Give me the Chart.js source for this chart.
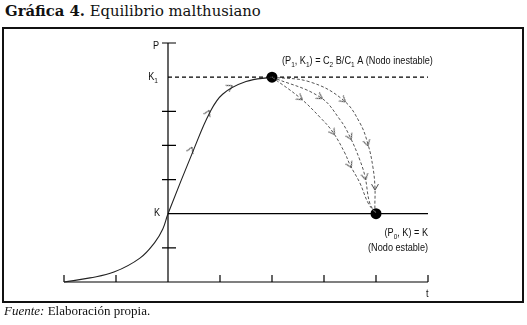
<!DOCTYPE html>
<html>
<head>
<meta charset="utf-8">
<script src="https://cdn.jsdelivr.net/npm/chart.js@4.4.1/dist/chart.umd.min.js"></script>
<style>
html, body { margin: 0; padding: 0; background: #fff; width: 527px; height: 325px; overflow: hidden; position: relative; }
#title { position: absolute; left: 5px; top: 2px; font: 14.8px "DejaVu Serif", serif; color: #111; white-space: nowrap; }
#frame { position: absolute; left: 2px; top: 27px; width: 518px; height: 272px; border: 2px solid #111; }
#note { position: absolute; left: 4px; top: 303px; font: 13px "Liberation Serif", serif; color: #111; white-space: nowrap; }
canvas { position: absolute; left: 0; top: 0; }
</style>
</head>
<body>
<div id="title"><b>Gráfica 4.</b> Equilibrio malthusiano</div>
<div id="frame"></div>
<canvas id="chart" width="527" height="325"></canvas>
<div id="note"><i>Fuente:</i> Elaboración propia.</div>
<script>
// ── data (abstract units: t across, P up) ─────────────
const xTicks = [0, 1, 3, 4, 5, 6, 7];
const yTicks = [1, 3, 4, 5, 7];
const axisT = 2;      // P axis stands at t = 2
const kLevel = 2;     // K
const k1Level = 6;    // K1
const tMax = 7;

// growth path up to (P1, K1)
const growthT = [0, 0.5, 0.96, 1.46, 1.75, 1.9, 2.0, 2.5, 2.8, 3.05, 3.5, 4.0];
const growthP = [0, 0.12, 0.29, 0.70, 1.17, 1.55, 2.0, 3.9, 4.95, 5.5, 5.87, 6.0];

// dashed paths from the unstable node down to the stable one
const path1T = [4.0, 4.54, 4.92, 5.17, 5.40, 5.50, 5.69, 5.85, 6.0];
const path1P = [6.0, 5.39, 4.83, 4.39, 3.78, 3.43, 2.90, 2.31, 2.0];
const path2T = [4.0, 4.92, 5.31, 5.50, 5.69, 5.79, 5.88, 6.0];
const path2P = [6.0, 5.42, 4.75, 4.25, 3.57, 3.08, 2.31, 2.0];
const path3T = [4.0, 4.73, 5.37, 5.69, 5.85, 5.94, 5.98, 5.98, 6.0];
const path3P = [6.0, 5.86, 5.33, 4.66, 4.01, 3.37, 2.78, 2.11, 2.0];

// direction arrows (position + heading in degrees)
const arrowT = [2.44, 2.77, 3.19, 4.54, 5.17, 5.50, 4.92, 5.50, 5.79, 5.37, 5.83, 5.98];
const arrowP = [3.87, 4.95, 5.71, 5.39, 4.39, 3.43, 5.42, 4.25, 3.08, 5.33, 4.07, 2.78];
const arrowDeg = [-67, -64, -29, 36, 55, 63, 32, 63, 77, 39, 74, 90];

// nodes
const nodeT = [4, 6];
const nodeP = [6, 2];

const pts = (xs, ys) => xs.map((x, i) => ({ x, y: ys[i] }));

// small open chevron used as point style
const chevron = document.createElement('canvas');
chevron.width = 10; chevron.height = 10;
(() => {
  const c = chevron.getContext('2d');
  c.strokeStyle = '#444'; c.lineWidth = 1;
  c.beginPath(); c.moveTo(2, 1.5); c.lineTo(8, 5); c.lineTo(2, 8.5); c.stroke();
})();

const labelFont = '10.5px "Liberation Sans", sans-serif';
const subFont = '7.5px "Liberation Sans", sans-serif';
const squeeze = 0.87; // the original face is condensed

// draw text with [text, isSub] parts
function rich(ctx, parts, x, y, align) {
  const w = parts.reduce((s, [t, sub]) => { ctx.font = sub ? subFont : labelFont; return s + ctx.measureText(t).width; }, 0) * squeeze;
  ctx.save();
  ctx.translate(align === 'right' ? x - w : x, y);
  ctx.scale(squeeze, 1);
  ctx.textAlign = 'left';
  let cx = 0;
  parts.forEach(([t, sub]) => {
    ctx.font = sub ? subFont : labelFont;
    ctx.fillText(t, cx, sub ? 3 : 0);
    cx += ctx.measureText(t).width;
  });
  ctx.restore();
}

const axesPlugin = {
  id: 'axes',
  beforeDatasetsDraw(chart) {
    const { ctx, scales: { x, y } } = chart;
    const x0 = x.getPixelForValue(axisT), yb = y.getPixelForValue(0);
    ctx.save();
    ctx.strokeStyle = '#000'; ctx.lineWidth = 1.2;
    ctx.beginPath();
    ctx.moveTo(x.getPixelForValue(0), yb); ctx.lineTo(x.getPixelForValue(tMax), yb);
    ctx.moveTo(x0, yb); ctx.lineTo(x0, y.getPixelForValue(tMax));
    xTicks.forEach(v => { const px = x.getPixelForValue(v); ctx.moveTo(px, yb); ctx.lineTo(px, yb - 7); });
    yTicks.forEach(v => { const py = y.getPixelForValue(v); ctx.moveTo(x0 - 6, py); ctx.lineTo(x0 + 8, py); });
    ctx.stroke();
    ctx.restore();
  },
  afterDatasetsDraw(chart) {
    const { ctx, scales: { x, y } } = chart;
    const x0 = x.getPixelForValue(axisT);
    ctx.save();
    ctx.fillStyle = '#111';
    ctx.textBaseline = 'alphabetic';
    rich(ctx, [['P']], x0 - 9, y.getPixelForValue(7) + 6, 'right');
    rich(ctx, [['K'], ['1', 1]], x0 - 10, y.getPixelForValue(k1Level) + 3, 'right');
    rich(ctx, [['K']], x0 - 8, y.getPixelForValue(kLevel) + 2, 'right');
    rich(ctx, [['t']], x.getPixelForValue(tMax) - 2, y.getPixelForValue(0) + 15, 'left');
    const ux = x.getPixelForValue(nodeT[0]), uy = y.getPixelForValue(nodeP[0]);
    rich(ctx, [['(P'], ['1', 1], [', K'], ['1', 1], [') = C'], ['2', 1], [' B/C'], ['1', 1], [' A (Nodo inestable)']], ux + 10, uy - 13, 'left');
    const sx = x.getPixelForValue(tMax), sy = y.getPixelForValue(nodeP[1]);
    rich(ctx, [['(P'], ['0', 1], [', K) = K']], sx, sy + 22, 'right');
    rich(ctx, [['(Nodo estable)']], sx, sy + 37, 'right');
    ctx.restore();
  }
};

const lineDs = (data, extra) => ({
  type: 'line', data, borderColor: '#222', borderWidth: 1, pointRadius: 0,
  fill: false, clip: false, ...extra
});

new Chart(document.getElementById('chart').getContext('2d'), {
  type: 'line',
  data: {
    datasets: [
      lineDs([{ x: axisT, y: k1Level }, { x: tMax, y: k1Level }], { borderColor: '#000', borderWidth: 1.1, borderDash: [4, 3] }),
      lineDs([{ x: axisT, y: kLevel }, { x: tMax, y: kLevel }], { borderColor: '#000', borderWidth: 1.3 }),
      lineDs(pts(growthT, growthP), { borderColor: '#222', borderWidth: 1.1, tension: 0.4 }),
      lineDs(pts(path1T, path1P), { borderColor: '#555', borderDash: [3, 2], tension: 0.4 }),
      lineDs(pts(path2T, path2P), { borderColor: '#555', borderDash: [3, 2], tension: 0.4 }),
      lineDs(pts(path3T, path3P), { borderColor: '#555', borderDash: [3, 2], tension: 0.4 }),
      {
        type: 'scatter', data: pts(arrowT, arrowP), pointStyle: chevron, pointRadius: 4,
        rotation: ctx => arrowDeg[ctx.dataIndex], clip: false
      },
      {
        type: 'scatter', data: pts(nodeT, nodeP), pointRadius: 5.5, pointBackgroundColor: '#000',
        pointBorderColor: '#000', borderWidth: 0, clip: false
      }
    ]
  },
  options: {
    responsive: false,
    animation: false,
    layout: { padding: { left: 64, right: 99, top: 43, bottom: 43 } },
    plugins: { legend: { display: false }, tooltip: { enabled: false } },
    scales: {
      x: { type: 'linear', min: 0, max: tMax, display: false },
      y: { type: 'linear', min: 0, max: 7, display: false }
    }
  },
  plugins: [axesPlugin]
});
</script>
</body>
</html>
